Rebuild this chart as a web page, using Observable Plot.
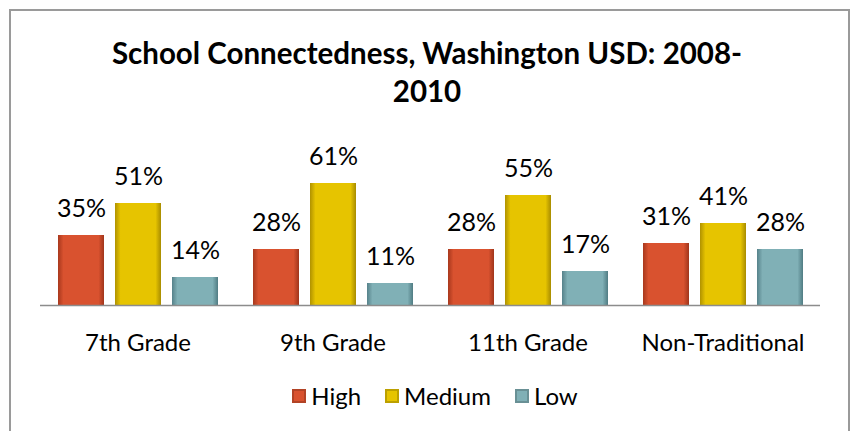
<!DOCTYPE html>
<html>
<head>
<meta charset="utf-8">
<script src="https://cdn.jsdelivr.net/npm/d3@7"></script>
<script src="https://cdn.jsdelivr.net/npm/@observablehq/plot@0.6"></script>
<style>
  html, body { margin: 0; padding: 0; background: #fff; }
  body { width: 854px; height: 431px; overflow: hidden; position: relative; font-family: Lato, "Open Sans", sans-serif; }
  #frame { position: absolute; left: 9px; top: 9px; width: 837px; height: 440px; border: 2px solid #9a9a9a; }
  #title { position: absolute; left: 0; top: 34px; width: 854px; text-align: center; font-weight: bold; font-size: 29.5px; line-height: 38px; color: #000; }
  #chart { position: absolute; left: 0; top: 135px; }
  #legend { position: absolute; left: 8px; top: 381px; width: 854px; display: flex; justify-content: center; gap: 24px; font-size: 24px; color: #000; }
  #legend .item { display: flex; align-items: center; gap: 5px; }
  #legend .sw { width: 14px; height: 14px; display: inline-block; }
</style>
</head>
<body>
<svg width="1" height="1" style="position:absolute;left:0;top:0">
  <defs>
    <linearGradient id="gHigh" x1="0" x2="1" y1="0" y2="0">
      <stop offset="0" stop-color="#a8381d"/><stop offset="0.12" stop-color="#d9522f"/><stop offset="0.88" stop-color="#d9522f"/><stop offset="1" stop-color="#a0351b"/>
    </linearGradient>
    <linearGradient id="gMedium" x1="0" x2="1" y1="0" y2="0">
      <stop offset="0" stop-color="#b09200"/><stop offset="0.12" stop-color="#e6c400"/><stop offset="0.88" stop-color="#e6c400"/><stop offset="1" stop-color="#a88c00"/>
    </linearGradient>
    <linearGradient id="gLow" x1="0" x2="1" y1="0" y2="0">
      <stop offset="0" stop-color="#56828a"/><stop offset="0.12" stop-color="#80b0b6"/><stop offset="0.88" stop-color="#80b0b6"/><stop offset="1" stop-color="#507c83"/>
    </linearGradient>
  </defs>
</svg>
<div id="frame"></div>
<div id="title">School Connectedness, Washington USD: 2008-<br>2010</div>
<div id="chart"></div>
<div id="legend"></div>
<script>
const grades = ["7th Grade", "9th Grade", "11th Grade", "Non-Traditional"];
const levels = ["High", "Medium", "Low"];
const high = [35, 28, 28, 31];
const medium = [51, 61, 55, 41];
const low = [14, 11, 17, 28];
const swatchColors = ["#d9522f", "#e6c400", "#80b0b6"];
const fills = ["url(#gHigh)", "url(#gMedium)", "url(#gLow)"];

const series = [high, medium, low];
const data = [];
grades.forEach((g, i) => levels.forEach((l, j) => data.push({grade: g, level: l, value: series[j][i]})));

const plot = Plot.plot({
  width: 854,
  height: 220,
  marginLeft: 40,
  marginRight: 34,
  marginTop: 30,
  marginBottom: 50,
  style: {fontSize: "24px", fontFamily: "Lato, 'Open Sans', sans-serif", color: "#000", background: "transparent"},
  fx: {domain: grades, padding: 0, axis: "bottom", label: null, tickSize: 0, tickPadding: 28},
  x: {domain: levels, axis: null, paddingInner: 0.2, paddingOuter: 0.296},
  y: {domain: [0, 70], axis: null},
  color: {domain: levels, range: fills},
  marks: [
    Plot.barY(data, {fx: "grade", x: "level", y: "value", fill: "level"}),
    Plot.ruleY([0], {stroke: "#8c8c8c", strokeWidth: 1.5}),
    Plot.text(data, {fx: "grade", x: "level", y: "value", text: d => d.value + "%", dy: -27, lineAnchor: "middle", fill: "#000", fontSize: 25})
  ]
});
document.getElementById("chart").appendChild(plot);

const legend = document.getElementById("legend");
levels.forEach((l, i) => {
  const item = document.createElement("span");
  item.className = "item";
  const sw = document.createElement("span");
  sw.className = "sw";
  sw.style.background = swatchColors[i];
  sw.style.boxShadow = "inset 0 0 0 2px rgba(0,0,0,0.18)";
  const t = document.createElement("span");
  t.textContent = l;
  item.appendChild(sw);
  item.appendChild(t);
  legend.appendChild(item);
});
</script>
</body>
</html>
